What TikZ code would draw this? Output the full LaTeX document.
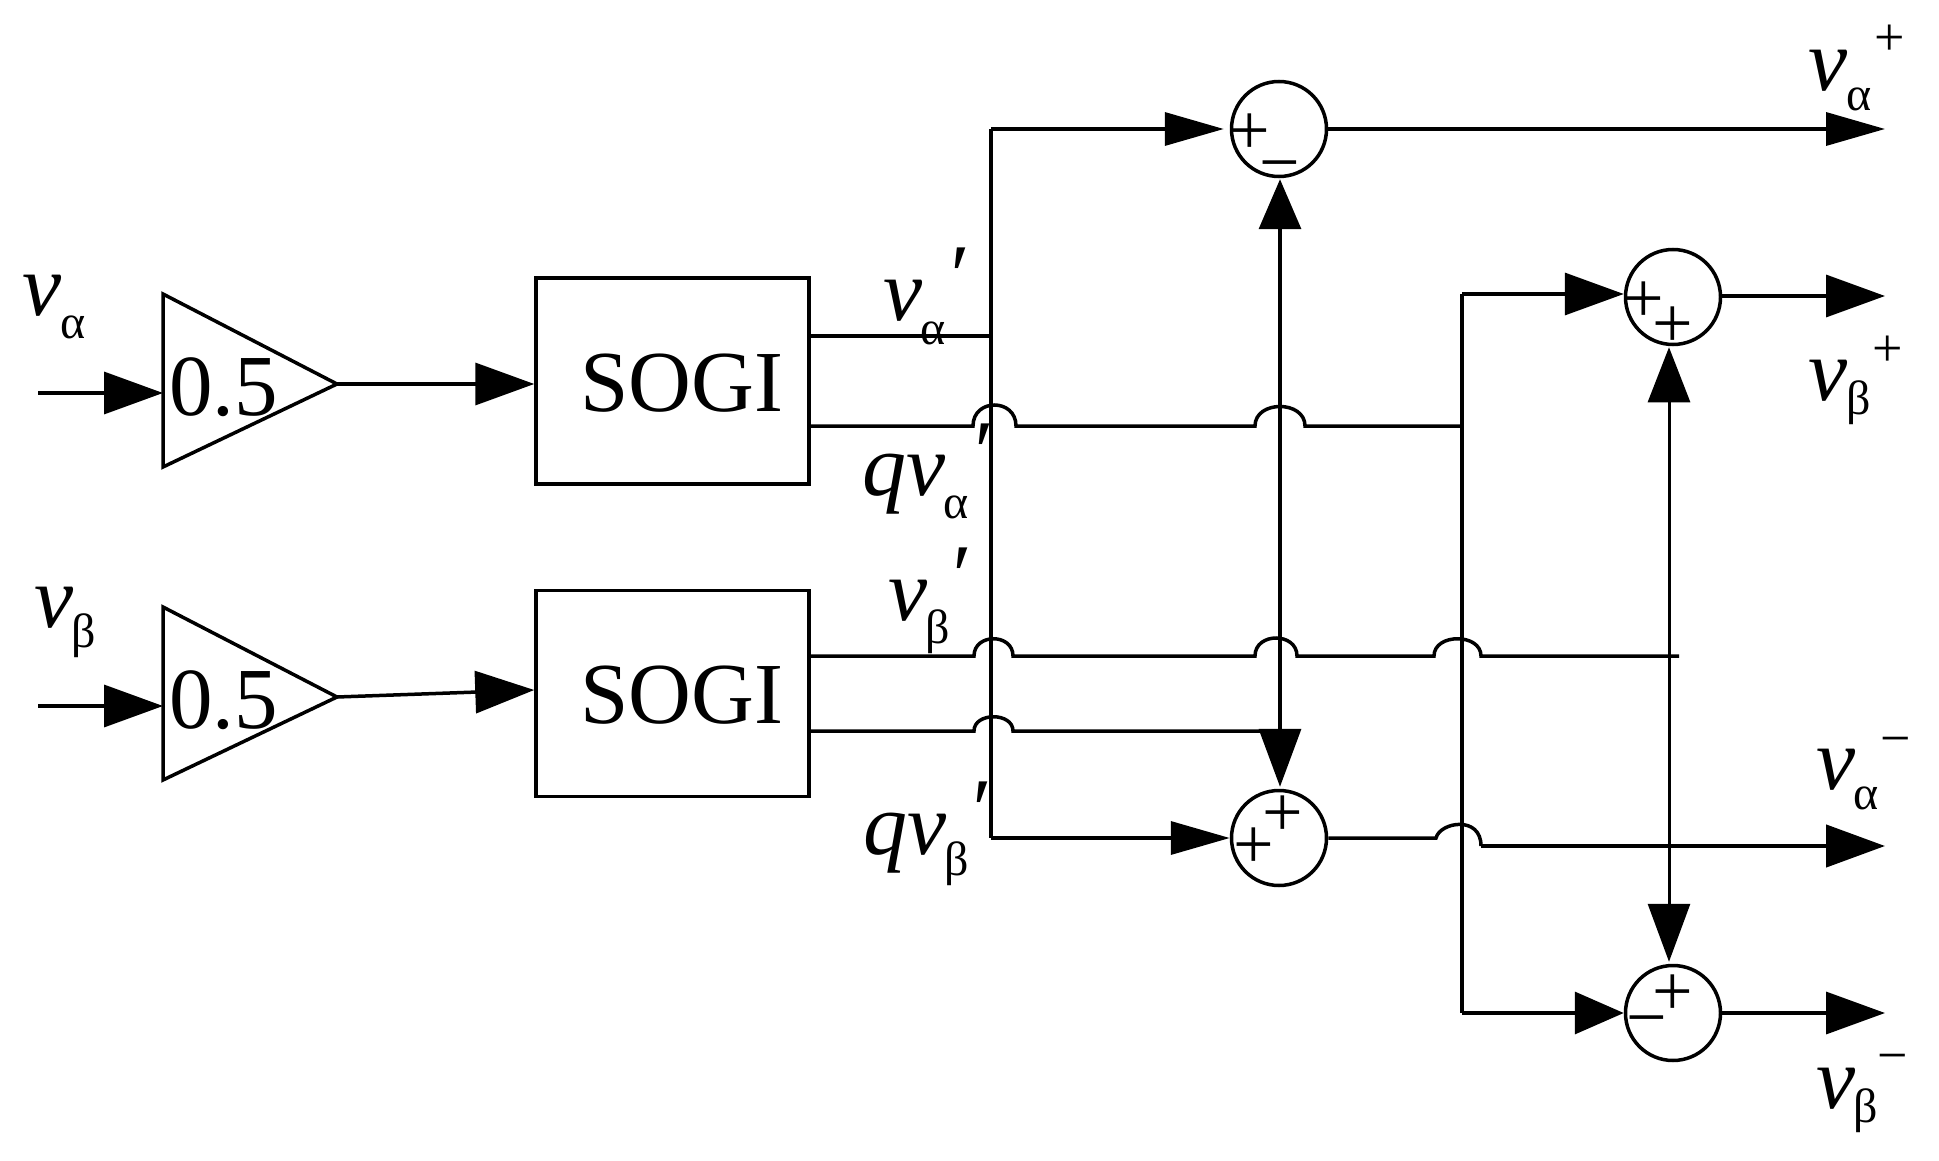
\documentclass[tikz,border=0pt]{standalone}
\usepackage{fontspec}
\setmainfont{Liberation Serif}
\usetikzlibrary{arrows.meta}
\newcommand{\hopat}[4]{-- (#1,#3) .. controls (#1,#3-#4) and (#2,#3-#4) .. (#2,#3)}
\tikzset{
  wire/.style={line width=3.5pt,line cap=butt,line join=miter},
  thinwire/.style={line width=3pt},
  block/.style={draw,line width=3.5pt,rectangle,inner sep=0pt,minimum width=273pt,minimum height=206pt},
  sum/.style={draw,line width=3.5pt,circle,inner sep=0pt,minimum size=95pt},
  bigtxt/.style={inner sep=0pt,anchor=base west,font=\fontsize{87}{90}\selectfont},
  var/.style={inner sep=0pt,anchor=base west,font=\fontsize{88}{90}\selectfont\itshape},
  sub/.style={inner sep=0pt,anchor=base west,font=\fontsize{48}{50}\selectfont},
  sign/.style={inner sep=0pt,anchor=center,font=\fontsize{72}{72}\selectfont},
  supsign/.style={inner sep=0pt,anchor=center,font=\fontsize{54}{54}\selectfont},
  prm/.style={inner sep=0pt,anchor=center,font=\fontsize{88}{90}\selectfont\itshape},
  ah/.style={-{Triangle[length=59pt,width=42pt]}},
  ahn/.style={-{Triangle[length=59pt,width=33pt]}},
  ahs/.style={-{Triangle[length=49pt,width=42pt]}},
  ahv/.style={{Triangle[length=#1pt,width=42pt]}-{Triangle[length=58pt,width=42pt]}},
}
\begin{document}
\begin{tikzpicture}[x=1pt,y=-1pt]
\useasboundingbox (0,0) rectangle (1939,1161);
% gains
\coordinate (g1a) at (163,294); \coordinate (g1b) at (163,467); \coordinate (g1t) at (337,384);
\coordinate (g2a) at (163,607); \coordinate (g2b) at (163,780); \coordinate (g2t) at (337,697);
\draw[wire] (g1a) -- (g1t) -- (g1b) -- cycle;
\draw[wire] (g2a) -- (g2t) -- (g2b) -- cycle;
\node[bigtxt] (g1l) at (169,415) {0.5};
\node[bigtxt] (g2l) at (169,728) {0.5};
% SOGI blocks
\node[block] (s1) at (672.5,381) {};
\node[block] (s2) at (672.5,693.5) {};
\node[bigtxt] (s1l) at (580,411) {SOGI};
\node[bigtxt] (s2l) at (580,723) {SOGI};
% sums
\node[sum] (c1) at (1279,129) {};
\node[sum] (c2) at (1673,297) {};
\node[sum] (c3) at (1279,838) {};
\node[sum] (c4) at (1673,1013) {};
% signs
\node[sign] (p1a) at (1250,134) {+};
\node[sign] (m1b) at (1280,174) {−};
\node[sign] (p2a) at (1644,302) {+};
\node[sign] (p2b) at (1673,327) {+};
\node[sign] (p3a) at (1283,816) {+};
\node[sign] (p3b) at (1254,848) {+};
\node[sign] (p4a) at (1673,995) {+};
\node[sign] (m4b) at (1647,1029) {−};
% named terminals
\coordinate (in1) at (38,393); \coordinate (in1e) at (163,393);
\coordinate (in2) at (38,706); \coordinate (in2e) at (163,706);
\coordinate (s1u) at (809,336); \coordinate (s1d) at (809,426);
\coordinate (s2u) at (809,656); \coordinate (s2d) at (809,731);
\coordinate (busT) at (991,129); \coordinate (busU) at (991,336); \coordinate (busB) at (991,838);
\coordinate (br2T) at (1462,294); \coordinate (br2M) at (1462,426); \coordinate (br2B) at (1462,1013);
\coordinate (o1) at (1885,129); \coordinate (o2) at (1885,296);
\coordinate (o3) at (1885,846); \coordinate (o4) at (1885,1013);
\coordinate (e656) at (1679,656); \coordinate (e731) at (1280,731);
% inputs
\draw[wire,ah] (in1) -- (in1e);
\draw[wire,ah] (in2) -- (in2e);
\draw[wire,ah] (g1t) -- (s1.west |- 0,384);
\draw[wire,ah] (g2t) -- (s2.west |- 0,690);
% bus 1
\draw[wire] (s1u) -- (busU);
\draw[wire] (busT) -- (busB);
\draw[wire,ahn] (busT) -- ([xshift=-6pt]c1.west);
\draw[wire,ahn] (busB) -- (c3.west);
% cross wires
\draw[wire] (s1d) \hopat{973}{1016}{426}{28} \hopat{1255}{1305}{426}{26} -- (br2M);
\draw[wire] (s2u) \hopat{974}{1013}{656}{23} \hopat{1255}{1297}{656}{24} \hopat{1434}{1481}{656}{23} -- (e656);
\draw[wire] (s2d) \hopat{974}{1013}{731}{19} -- (e731);
% vertical double arrows
\draw[wire,ahv=50] ([xshift=1pt,yshift=-1pt]c1.south) -- ([xshift=1pt,yshift=2pt]c3.north);
\draw[thinwire,ahv=55] ([xshift=-4pt,yshift=-1pt]c2.south) -- ([xshift=-4pt,yshift=2pt]c4.north);
% bus 2
\draw[wire] (br2T) -- (br2B);
\draw[wire,ah] (br2T) -- (c2.west |- br2T);
\draw[wire,ahs] (br2B) -- (c4.west);
% outputs
\draw[wire,ahn] (c1.east) -- (o1);
\draw[wire,ah] (c2.east |- o2) -- (o2);
\draw[wire] (c3.east) -- (1436,838) .. controls (1440,822) and (1481,815) .. (1481,846);
\draw[line width=4.5pt,ah] (1481,846) -- (o3);
\draw[wire,ah] (c4.east) -- (o4);
% labels
\node[var] (a) at (22,316) {v}; \node[sub] (as) at (60,338) {α};
\node[var] (b) at (34,627) {v}; \node[sub] (bs) at (71,647) {β};
\node[var] (ap) at (883,320) {v}; \node[sub] (aps) at (920,344) {α}; \node[prm] (app) at (955,277) {′};
\node[var] (bp) at (888,620) {v}; \node[sub] (bps) at (925,643) {β}; \node[prm] (bpp) at (957,577) {′};
\node[var] (qa) at (862,495) {qv}; \node[sub] (qas) at (943,518) {α}; \node[prm] (qap) at (979,453) {′};
\node[var] (qb) at (863,854) {qv}; \node[sub] (qbs) at (944,875) {β}; \node[prm] (qbp) at (977,811) {′};
\node[var] (ao) at (1808,91) {v}; \node[sub] (aos) at (1846,111) {α}; \node[supsign] (aop) at (1890,40) {+};
\node[var] (bo) at (1808,400) {v}; \node[sub] (bos) at (1846,414) {β}; \node[supsign] (bop) at (1888,351) {+};
\node[var] (am) at (1816,789) {v}; \node[sub] (ams) at (1853,809) {α}; \node[supsign] (amm) at (1896,747) {−};
\node[var] (bm) at (1816,1108) {v}; \node[sub] (bms) at (1853,1122) {β}; \node[supsign] (bmm) at (1893,1064) {−};
\end{tikzpicture}
\end{document}
